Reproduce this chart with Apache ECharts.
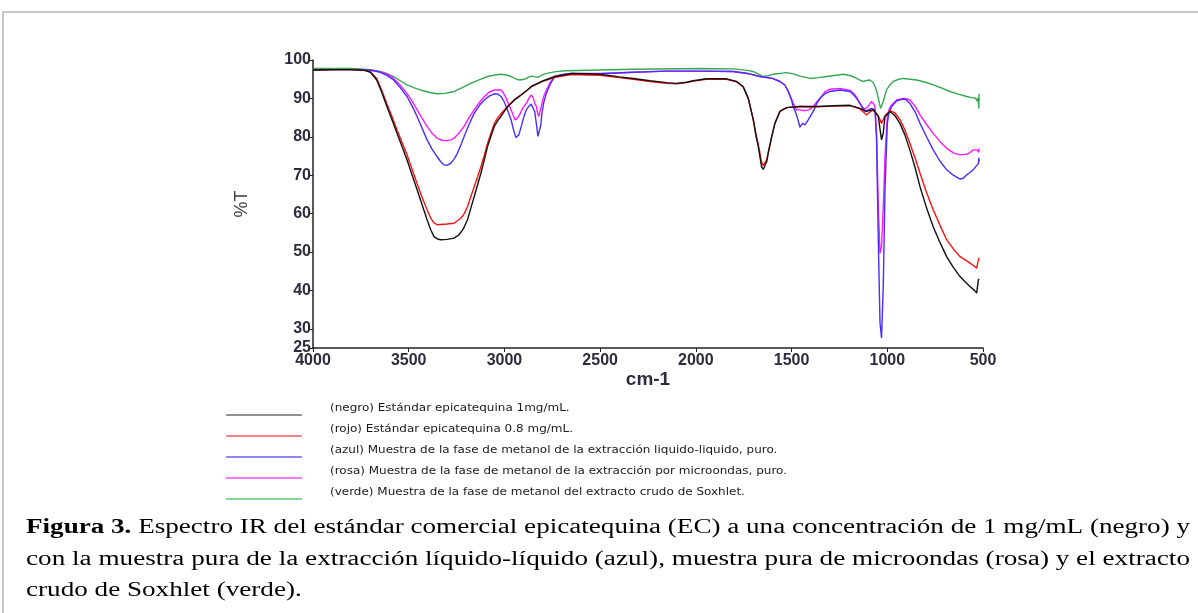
<!DOCTYPE html>
<html><head><meta charset="utf-8">
<script src="https://cdn.jsdelivr.net/npm/echarts@6/dist/echarts.min.js"></script>
<style>html,body{margin:0;padding:0;background:#fff}#c{width:1198px;height:613px}</style>
</head><body><div id="c"></div>
<script>
// ---- data (wavenumber cm-1, %T) ----
const yTickValues = [25, 30, 40, 50, 60, 70, 80, 90, 100];
const seriesNames = ['negro', 'rojo', 'azul', 'rosa', 'verde'];
const legendLabels = [
  '(negro) Estándar epicatequina 1mg/mL.',
  '(rojo) Estándar epicatequina 0.8 mg/mL.',
  '(azul) Muestra de la fase de metanol de la extracción liquido-liquido, puro.',
  '(rosa) Muestra de la fase de metanol de la extracción por microondas, puro.',
  '(verde) Muestra de la fase de metanol del extracto crudo de Soxhlet.'
];
const captionBold = 'Figura 3.';
const captionLines = [
  ' Espectro IR del estándar comercial epicatequina (EC) a una concentración de 1 mg/mL (negro) y',
  'con la muestra pura de la extracción líquido-líquido (azul), muestra pura de microondas (rosa) y el extracto',
  'crudo de Soxhlet (verde).'
];
const negro = [[4000,97.4],[3900,97.5],[3800,97.5],[3730,97.3],[3700,96.8],[3667,94.8],[3640,91.5],[3614,87.9],[3587,84.4],[3561,80.9],[3535,77.5],[3509,74],[3482,70],[3456,66.2],[3430,62.3],[3404,58.4],[3385,55.8],[3368,54],[3350,53.4],[3333,53.2],[3300,53.3],[3263,53.6],[3237,54.5],[3215,56],[3193,58.4],[3175,61.5],[3158,64.4],[3140,67.5],[3123,70.5],[3105,74],[3088,77.5],[3070,80.2],[3053,82.7],[3035,84.2],[3018,85.3],[3000,86.7],[2982,87.9],[2947,89.6],[2912,90.9],[2880,92.2],[2860,93.1],[2807,94.4],[2737,95.7],[2649,96.5],[2561,96.4],[2500,96.3],[2400,95.6],[2327,95.2],[2240,94.6],[2153,94.1],[2101,93.9],[2050,94.2],[2014,94.6],[1944,95.1],[1840,95.1],[1787,94.4],[1753,93.1],[1726,90],[1700,84.4],[1685,80],[1674,77.5],[1657,72.2],[1648,71.5],[1639,71.8],[1630,73.5],[1622,75.7],[1604,80],[1587,83.5],[1561,86.6],[1526,87.6],[1456,87.9],[1369,87.9],[1282,88.1],[1195,88.2],[1143,87.4],[1108,86.6],[1090,86.9],[1073,87],[1047,85.3],[1038,82],[1030,79.2],[1021,81],[1012,85.3],[986,86.6],[960,85.5],[934,83.5],[908,80.5],[882,76.6],[855,72],[829,67],[795,61.5],[760,56.6],[725,52.5],[690,48.8],[655,46],[620,43.6],[595,42.3],[568,41],[545,40],[533,39.3],[526,39.0],[524,42.8],[520,43]];
const rojo = [[4000,97.4],[3900,97.5],[3800,97.5],[3730,97.3],[3700,96.9],[3667,95.2],[3640,92],[3614,88.6],[3587,85.2],[3561,81.8],[3535,78.6],[3509,75.3],[3482,71.5],[3456,67.8],[3430,64.2],[3404,61],[3385,58.8],[3368,57.6],[3351,57.1],[3300,57.3],[3263,57.5],[3228,58.8],[3210,60],[3193,61.8],[3175,64.5],[3158,67],[3140,69.6],[3123,72.2],[3105,75.2],[3088,78.3],[3070,81],[3053,83.5],[3035,85],[3018,86],[3000,87],[2982,88],[2947,89.7],[2912,91],[2880,92.2],[2860,93],[2807,94.3],[2737,95.5],[2649,96.2],[2561,96.1],[2500,96],[2400,95.4],[2327,95.0],[2240,94.4],[2153,93.9],[2101,93.8],[2050,94.1],[2014,94.5],[1944,95.0],[1840,95.0],[1787,94.3],[1753,93.0],[1726,90],[1700,84.5],[1685,80.5],[1674,78],[1657,73.5],[1648,72.5],[1639,72.5],[1630,74],[1622,76],[1604,80],[1587,83.5],[1561,86.6],[1526,87.6],[1456,87.9],[1369,87.8],[1282,88.0],[1195,88.1],[1143,87.3],[1108,85.7],[1090,86.5],[1073,87],[1047,85.5],[1030,83.5],[1012,85.5],[986,86.8],[960,86.2],[934,84.5],[908,81.8],[882,78.3],[855,74.5],[829,70.5],[795,65.5],[760,61],[725,57],[690,53.2],[655,50.8],[620,48.8],[595,48],[568,47.1],[545,46.3],[533,45.8],[526,45.5],[524,48],[520,48.5]];
const azul = [[4000,97.4],[3900,97.5],[3800,97.5],[3720,97.4],[3680,97.2],[3649,96.8],[3614,96],[3579,94.8],[3544,92.8],[3509,90.5],[3482,88],[3456,85.3],[3430,82.2],[3404,79.2],[3378,76.8],[3351,74.8],[3333,73.5],[3316,72.7],[3298,72.6],[3281,73.1],[3263,74.2],[3246,75.7],[3228,77.8],[3211,80],[3185,83.2],[3158,86.1],[3130,88.2],[3105,89.6],[3080,90.6],[3053,91.2],[3035,91.1],[3018,90.5],[3005,89.5],[2991,87.9],[2978,86.2],[2965,84.4],[2956,82.5],[2947,80.9],[2940,79.8],[2933,79.4],[2925,80.5],[2912,82.7],[2900,85],[2886,87],[2872,88],[2860,88.5],[2850,88],[2842,86.6],[2832,83],[2825,80.1],[2816,80.1],[2810,83],[2804,86.1],[2795,88.8],[2781,91.3],[2760,93.8],[2737,95.7],[2700,96.2],[2649,96.5],[2561,96.3],[2500,96.4],[2327,96.8],[2153,97.1],[1979,97.1],[1805,97.0],[1730,96.5],[1666,95.7],[1600,95.2],[1561,94.4],[1535,93.5],[1517,91.8],[1500,89.5],[1491,87.9],[1474,85.7],[1456,82.5],[1443,83.5],[1430,83.1],[1413,84.4],[1400,85.5],[1387,86.6],[1370,88.5],[1352,90],[1326,91.2],[1300,91.8],[1247,92.2],[1195,91.8],[1175,90.9],[1160,90],[1147,89],[1134,87.9],[1117,86.6],[1099,87],[1082,87.4],[1064,87],[1056,79.2],[1047,53.2],[1038,31.5],[1030,27.6],[1021,41],[1012,66.2],[1000,83.5],[990,86.5],[977,87.9],[951,89.4],[916,89.8],[900,89.6],[882,88.7],[855,86.5],[829,83.5],[795,80],[760,76.6],[725,73.7],[690,71.4],[655,70],[620,69],[603,69.2],[585,70.1],[568,70.7],[551,71.4],[533,72.5],[524,73.1],[522,74.5],[520,73.5]];
const rosa = [[4000,97.4],[3900,97.5],[3800,97.5],[3720,97.4],[3680,97.2],[3649,96.9],[3614,96.3],[3579,95.2],[3544,93.4],[3509,91.3],[3482,89.2],[3456,87],[3430,84.8],[3404,82.7],[3378,80.9],[3351,79.6],[3325,79.1],[3298,79],[3280,79.2],[3263,79.6],[3237,81],[3211,82.7],[3185,85],[3158,87],[3130,89],[3105,90.5],[3080,91.6],[3053,92.2],[3018,92.2],[3005,91.4],[2991,90],[2978,88.5],[2965,87],[2954,85.6],[2944,84.4],[2933,84.8],[2921,85.7],[2905,87.4],[2886,88.7],[2872,90],[2860,90.9],[2850,90.2],[2840,88.5],[2833,87.9],[2826,86],[2821,85.3],[2812,87],[2804,88.7],[2795,90.5],[2781,92.2],[2760,94.2],[2737,95.7],[2700,96.2],[2649,96.5],[2500,96.5],[2327,96.8],[2153,97.1],[1979,97.1],[1805,97.0],[1730,96.5],[1666,95.7],[1600,95.2],[1561,94.4],[1535,93.5],[1517,91.8],[1500,89.8],[1491,88.7],[1474,87],[1456,87],[1430,86.8],[1410,87],[1387,87.9],[1370,89],[1352,90],[1326,91.7],[1300,92.4],[1247,92.6],[1195,92.1],[1175,91.2],[1160,90.3],[1147,89],[1134,88],[1117,87.2],[1099,88],[1082,89.2],[1070,88.5],[1064,87.5],[1056,80.9],[1047,61.8],[1038,49.7],[1030,51.4],[1021,61.8],[1012,74.8],[1000,85.3],[990,87.2],[977,88.3],[951,89.6],[916,90],[900,89.9],[882,89.6],[855,88],[829,85.7],[795,83.2],[760,80.9],[725,78.8],[690,77],[655,75.8],[620,75.3],[585,75.5],[568,75.9],[551,76.6],[533,76.6],[524,76.8],[522,76],[520,77]];
const verde = [[4000,97.8],[3900,97.8],[3800,97.8],[3750,97.7],[3700,97.5],[3649,97],[3614,96.5],[3579,95.7],[3544,94.6],[3509,93.5],[3474,92.8],[3439,92.2],[3395,91.6],[3351,91.2],[3310,91.3],[3263,91.8],[3220,92.8],[3176,93.9],[3130,94.9],[3088,95.7],[3050,96.1],[3018,96.3],[2990,96.1],[2965,95.7],[2940,95.1],[2921,94.8],[2895,95],[2875,95.5],[2860,95.8],[2840,95.6],[2825,95.5],[2810,95.9],[2790,96.4],[2740,96.9],[2684,97.2],[2500,97.4],[2327,97.6],[1979,97.8],[1805,97.7],[1730,97.3],[1700,97],[1675,96.4],[1648,95.7],[1620,95.9],[1596,96.3],[1526,96.7],[1490,96.4],[1456,95.8],[1404,95.2],[1360,95.4],[1317,95.7],[1230,96.3],[1190,95.9],[1160,95.2],[1140,94.7],[1125,94.4],[1108,94.7],[1091,94.8],[1075,94.2],[1064,93.1],[1055,91.8],[1047,90],[1035,87.4],[1021,89.2],[1004,92.2],[985,93.6],[969,94.4],[940,95.0],[916,95.2],[880,95],[847,94.8],[800,94.2],[760,93.5],[715,92.7],[673,91.8],[630,91.1],[585,90.5],[560,90.2],[540,90.1],[533,90],[530,89.3],[527,90.2],[524,89],[522,87.4],[520,91.2]];
const seriesData = [negro, rojo, azul, rosa, verde];

// ---- styles ----
const lineColors = ['#111111', '#ff1010', '#4a2cff', '#ff18ff', '#35a853'];
const legendColors = ['#6e6e6e', '#ff5a5a', '#6a5cff', '#f04cf0', '#5cc87a'];

const ctx = document.createElement('canvas').getContext('2d');
function tw(text, font) { ctx.font = font; return ctx.measureText(text).width; }

const capFont = 'Liberation Serif';
const capSize = 20;
const capNormal = capSize + 'px "' + capFont + '"';
const capBoldF = 'bold ' + capSize + 'px "' + capFont + '"';
const capWidth = 1164;
const w0 = tw(captionBold, capBoldF) + tw(captionLines[0], capNormal);
const w1 = tw(captionLines[1], capNormal);
const s0 = capWidth / w0, s1 = capWidth / w1, s2 = (s0 + s1) / 2;
const capY = [528, 560, 591];

const legFont = '10.5px "DejaVu Sans"';
const legScale = 457 / tw(legendLabels[3], legFont);

const graphics = [
  { type: 'rect', shape: { x: 3, y: 12, width: 1300, height: 700 }, style: { fill: 'none', stroke: '#c8c8c8', lineWidth: 2 }, silent: true },
  { type: 'text', x: 26, y: capY[0], scaleX: s0, style: { x: 0, y: 0, text: '{b|' + captionBold + '}{r|' + captionLines[0] + '}', verticalAlign: 'middle', align: 'left',
      rich: { b: { fontFamily: capFont, fontSize: capSize, fontWeight: 'bold', fill: '#000' }, r: { fontFamily: capFont, fontSize: capSize, fill: '#000' } } } },
  { type: 'text', x: 26, y: capY[1], scaleX: s1, style: { x: 0, y: 0, text: captionLines[1], font: capNormal, fill: '#000', verticalAlign: 'middle', align: 'left' } },
  { type: 'text', x: 26, y: capY[2], scaleX: s2, style: { x: 0, y: 0, text: captionLines[2], font: capNormal, fill: '#000', verticalAlign: 'middle', align: 'left' } }
];
legendLabels.forEach(function (lab, i) {
  const ly = 415 + i * 21;
  graphics.push({ type: 'line', shape: { x1: 226, y1: ly, x2: 302, y2: ly }, style: { stroke: legendColors[i], lineWidth: 1.5 } });
  graphics.push({ type: 'text', x: 330, y: ly - 7, scaleX: legScale, style: { x: 0, y: 0, text: lab, font: legFont, fill: '#1a1a1a', verticalAlign: 'middle', align: 'left' } });
});

const axisTextColor = '#2c2c3e';
const chart = echarts.init(document.getElementById('c'), null, { renderer: 'canvas' });
chart.setOption({
  backgroundColor: '#ffffff',
  animation: false,
  grid: { left: 313, right: 215, top: 60, bottom: 265, containLabel: false },
  xAxis: {
    type: 'value', inverse: true, min: 500, max: 4000, interval: 500,
    name: 'cm-1', nameLocation: 'middle', nameGap: 21,
    nameTextStyle: { fontFamily: 'Liberation Sans', fontSize: 19, fontWeight: 'bold', color: axisTextColor },
    axisLine: { show: true, onZero: false, lineStyle: { color: '#222', width: 1.5 } },
    axisTick: { show: true, length: 4, lineStyle: { color: '#222' } },
    axisLabel: { fontFamily: 'Liberation Sans', fontSize: 16, fontWeight: 'bold', color: axisTextColor, margin: 5,
      formatter: function (v) { return String(v); } },
    splitLine: { show: false }
  },
  yAxis: {
    type: 'value', min: 25, max: 100,
    name: '%T', nameLocation: 'middle', nameGap: 62, nameRotate: 90,
    nameTextStyle: { fontFamily: 'Liberation Sans', fontSize: 18, color: '#3a3a3a' },
    axisLine: { show: true, onZero: false, lineStyle: { color: '#222', width: 1.5 } },
    axisTick: { show: true, length: 5, customValues: yTickValues, lineStyle: { color: '#222' } },
    axisLabel: { customValues: yTickValues, fontFamily: 'Liberation Sans', fontSize: 16, fontWeight: 'bold', color: axisTextColor, margin: 2 },
    splitLine: { show: false }
  },
  series: seriesData.map(function (d, i) {
    return { name: seriesNames[i], type: 'line', data: d, showSymbol: false, symbol: 'none',
      lineStyle: { color: lineColors[i], width: 1.4 }, z: 10 - i };
  }),
  graphic: graphics
});
</script></body></html>
